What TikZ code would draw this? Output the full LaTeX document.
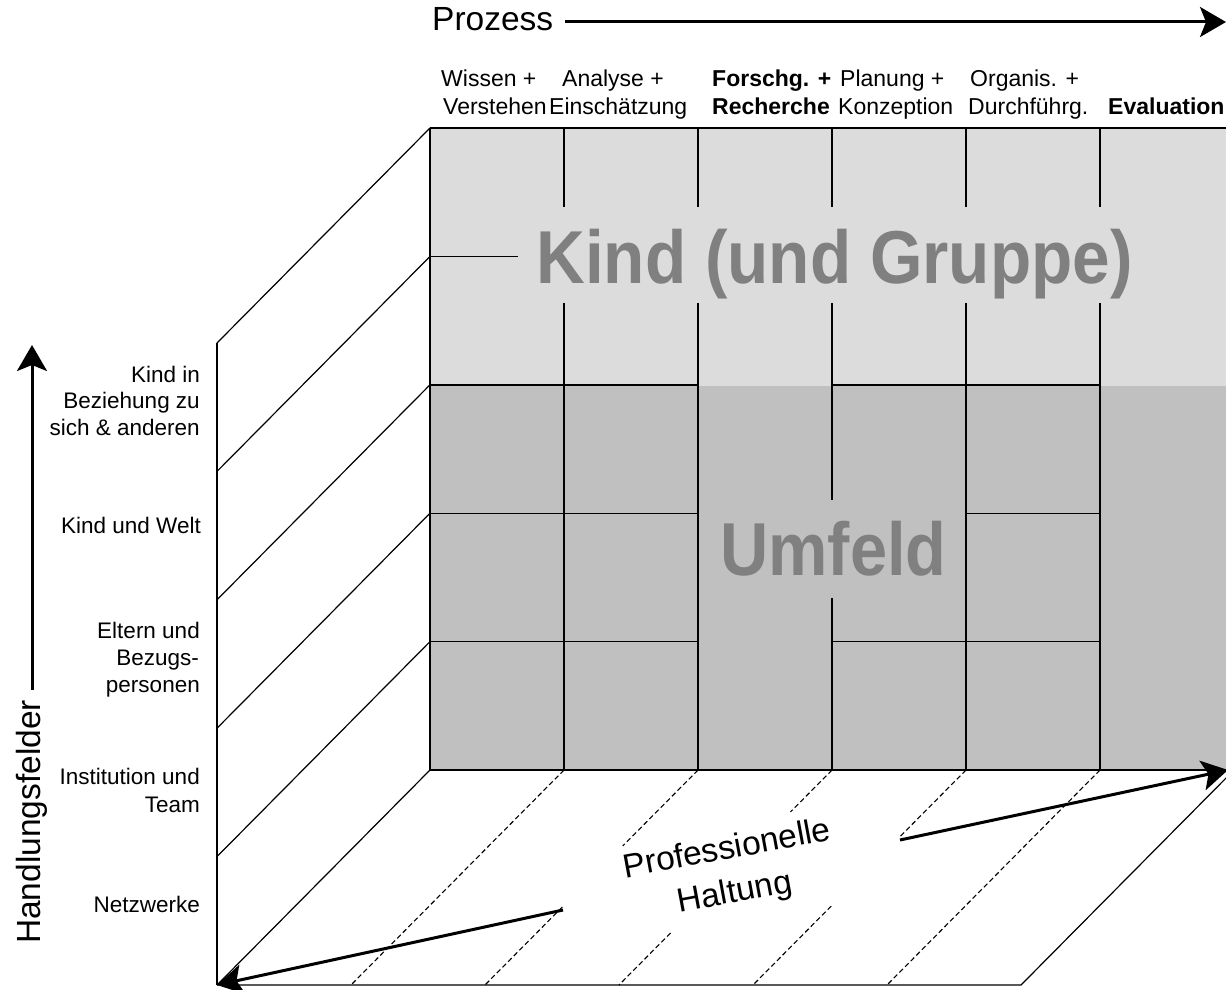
\documentclass[tikz,border=0pt]{standalone}
\usepackage{fontspec}
\setmainfont{Liberation Sans}
\usetikzlibrary{arrows.meta,calc}
\definecolor{lightwall}{HTML}{DCDCDC}
\definecolor{darkwall}{HTML}{C0C0C0}
\definecolor{textgrey}{HTML}{808080}
\tikzset{
  lbl/.style={font=\fontsize{22.5}{27}\selectfont, inner sep=0pt, anchor=base east},
  hdr/.style={font=\fontsize{23}{27}\selectfont, inner sep=0pt, anchor=base west},
  hdrb/.style={font=\fontsize{23}{27}\selectfont\bfseries, inner sep=0pt, anchor=base west},
  gridline/.style={line width=1.2pt, black},
  floorline/.style={line width=1.1pt, black, dash pattern=on 5pt off 3pt},
  bigarrow/.style={line width=3pt, -{Stealth[length=26pt,width=30pt,inset=6pt]}},
  bigtext/.style={font=\fontsize{33.5}{39}\selectfont, inner sep=0pt},
  walltitle/.style={font=\fontsize{75}{80}\selectfont\bfseries, text=textgrey, inner sep=0pt, anchor=base},
}
\begin{document}
\begin{tikzpicture}[x=1pt,y=-1pt]
\useasboundingbox (0,0) rectangle (1226,990);
\clip (0,0) rectangle (1226,990);

% ---------- back wall fills
\fill[lightwall] (430,128) rectangle (1240,388);
\fill[darkwall] (430,386) rectangle (1240,770);

% ---------- back wall grid
\draw[gridline] (430,128) -- (1240,128);
\draw[gridline] (430,128) -- (430,770);
\foreach \x in {564,698,832,966,1100}{
  \draw[gridline] (\x,128) -- (\x,207);
  \draw[gridline] (\x,303) -- (\x,386);
}
\draw[gridline] (430,256.4) -- (518,256.4);
\draw[gridline] (430,385) -- (698,385) (832,385) -- (1100,385);
\foreach \x in {564,698,966,1100}{
  \draw[gridline] (\x,385) -- (\x,770);
}
\draw[gridline] (832,385) -- (832,500) (832,598) -- (832,770);
\draw[gridline] (430,513.2) -- (698,513.2) (966,513.2) -- (1100,513.2);
\draw[gridline] (430,641.6) -- (698,641.6) (832,641.6) -- (1100,641.6);
\draw[line width=1.8pt] (430,770) -- (1240,770);

% ---------- left wall
\draw[gridline] (217,343) -- (217,985);
\foreach \y in {128,256.4,384.8,513.2,641.6,770}{
  \draw[gridline] (430,\y) -- ++(-213,215);
}

% ---------- floor
\draw[gridline] (217,985) -- (1021,985) -- (1234,770);
\coordinate (t1) at (564,770);  \coordinate (b1) at (351,985);
\coordinate (t2) at (698,770);  \coordinate (b2) at (485,985);
\coordinate (t3) at (832,770);  \coordinate (b3) at (619,985);
\coordinate (t4) at (966,770);  \coordinate (b4) at (753,985);
\coordinate (t5) at (1100,770); \coordinate (b5) at (887,985);
\draw[floorline] (t1) -- (b1);
\draw[floorline] (t2) -- ($(t2)!0.353!(b2)$) ($(t2)!0.637!(b2)$) -- (b2);
\draw[floorline] (t3) -- ($(t3)!0.195!(b3)$) ($(t3)!0.758!(b3)$) -- (b3);
\draw[floorline] (t4) -- ($(t4)!0.312!(b4)$) ($(t4)!0.633!(b4)$) -- (b4);
\draw[floorline] (t5) -- (b5);

\coordinate (ra) at (900,840);  \coordinate (rb) at (1228,770);
\coordinate (la) at (563,910);  \coordinate (lb) at (217,985);
\draw[bigarrow] (ra) -- (rb);
\draw[bigarrow] (la) -- (lb);

\node[bigtext, align=center, rotate=10.5] (haltung) at (731,872) {Professionelle\\[5pt]Haltung};

% ---------- wall titles
\node[walltitle] (kind) at (834.5,283) {\scalebox{0.90}[1]{Kind (und Gruppe)}};
\node[walltitle] (umfeld) at (833.5,575) {\scalebox{0.89}[1]{Umfeld}};

% ---------- process axis
\node[bigtext, anchor=base west] (prozess) at (432,31) {Prozess};
\coordinate (pa) at (565,22); \coordinate (pb) at (1226,22);
\draw[bigarrow] (pa) -- (pb);

\node[hdr]  (h1a) at (441,86)  {Wissen +};
\node[hdr]  (h1b) at (443,114) {Verstehen};
\node[hdr]  (h2a) at (562,86)  {Analyse +};
\node[hdr]  (h2b) at (549,114) {Einschätzung};
\node[hdrb] (h3a) at (712,86)  {Forschg. +};
\node[hdrb] (h3b) at (712,114) {Recherche};
\node[hdr]  (h4a) at (840,86)  {Planung +};
\node[hdr]  (h4b) at (838,114) {Konzeption};
\node[hdr]  (h5a) at (970,86)  {Organis. +};
\node[hdr]  (h5b) at (968,114) {Durchführg.};
\node[hdrb] (h6b) at (1108,114) {Evaluation};

% ---------- field axis
\coordinate (va) at (32,690); \coordinate (vb) at (32,345);
\draw[bigarrow] (va) -- (vb);
\node[bigtext, anchor=base, rotate=90] (felder) at (40,822) {Handlungsfelder};

\node[lbl] (l1a) at (200,382) {Kind in};
\node[lbl] (l1b) at (200,408.5) {Beziehung zu};
\node[lbl] (l1c) at (200,435) {sich \& anderen};
\node[lbl] (l2)  at (201,533) {Kind und Welt};
\node[lbl] (l3a) at (200,638) {Eltern und};
\node[lbl] (l3b) at (199,665) {Bezugs-};
\node[lbl] (l3c) at (200,692) {personen};
\node[lbl] (l4a) at (200,784) {Institution und};
\node[lbl] (l4b) at (200,812) {Team};
\node[lbl] (l5)  at (200,912) {Netzwerke};
\end{tikzpicture}
\end{document}
